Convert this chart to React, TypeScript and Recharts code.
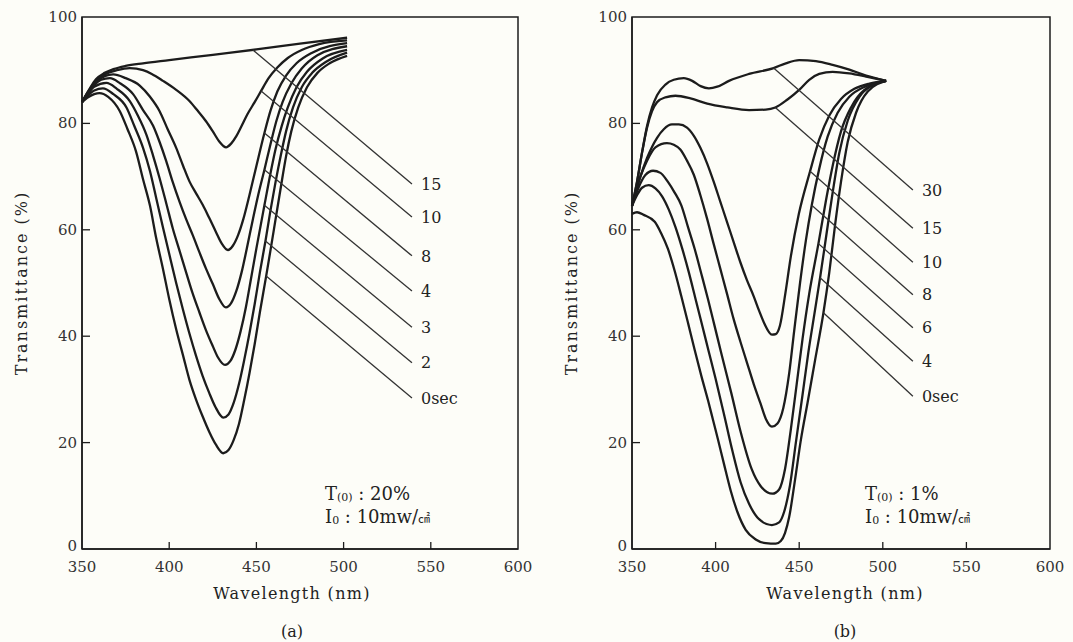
import React from 'react';
import { LineChart, Line, XAxis, YAxis, ReferenceArea, ReferenceDot } from 'recharts';

type Pt = [number, number];

const wavelengthTicks = [350, 400, 450, 500, 550, 600];
const transTicks = [0, 20, 40, 60, 80, 100];

// ---------- Panel (a): T(0) 20% ----------
const a15: Pt[] = [[350,84],[354,86.3],[358,88.3],[363,89.5],[368,90.2],[375,90.8],[385,91.3],[400,91.9],[425,92.9],[450,93.9],[475,95],[502,96.1]];
const a10: Pt[] = [[350,84],[354,86.2],[358,88],[363,89.2],[370,90],[377.4,90.4],[385,90],[390,89.3],[396.4,88],[404,86.3],[411.6,84.2],[416,82.5],[421.1,80.4],[425,78.5],[428.7,76.6],[432.6,75.5],[435.5,76.2],[438.5,77.6],[441.5,79.5],[445,81.8],[449,84],[452.7,86.1],[457,88.5],[462,90.5],[468,92.3],[476,93.8],[486,94.9],[502,95.6]];
const a8: Pt[] = [[350,84],[354,86],[358,87.7],[363,88.9],[367.9,89.2],[375,88.5],[383.1,87.1],[389,85],[394.5,82.3],[399,79],[404,75.4],[408,72],[411.6,69.1],[415.5,66.8],[419.2,64.7],[423,62.2],[426.8,59.6],[430,57.5],[433.7,56.2],[436.5,57],[439.5,59],[442.5,62],[446,66.5],[450,72],[454.6,78.2],[458,82.3],[462,86],[467,89],[473,91.3],[482,93.3],[502,95.1]];
const a4: Pt[] = [[350,84],[353,85.6],[357,87.2],[361,88.2],[366,88.5],[372,87.5],[379.3,85.5],[385,82.5],[390.7,79.6],[394.5,76.5],[398.3,72.9],[402,69],[405.9,65.3],[409.7,62],[413.5,59],[417.3,55.8],[421.1,52.7],[425,49.8],[428.7,47],[432.5,45.4],[435.5,46.2],[438.5,48.5],[441.5,52],[444.5,56.5],[448,62],[451,66.5],[454.6,71.3],[458,76],[461.5,80.5],[465,84],[470,87.5],[476,90.3],[485,92.8],[502,94.5]];
const a3: Pt[] = [[350,84],[353,85.4],[357,86.9],[364,87.6],[370,86.5],[377.4,84.2],[382,81.5],[386.9,77.9],[390.7,74],[394.5,69.7],[398.3,65],[402.1,60.2],[406,56],[409.7,52],[413.5,48],[417.3,44.5],[421,41.2],[424.9,38.2],[428,36],[432,34.6],[435,35.3],[438,37.5],[441,41],[444,45.5],[447,51],[450,56.5],[454.6,64.6],[458,70.5],[461,75.2],[464.5,79.5],[468,83],[473,86.8],[479,89.7],[488,92.2],[502,93.8]];
const a2: Pt[] = [[350,84],[353,85.1],[357,86.2],[362,86.6],[368,85.5],[375.5,83],[380,79.5],[385,75.4],[389,71],[392.6,65.9],[396.4,60.5],[400.2,55.2],[404,50],[407.8,45.1],[411.6,40.5],[415.4,36.3],[419.2,32.5],[423,29.3],[426.5,26.7],[431,24.7],[434,25.3],[437,27.5],[440,31],[443,35.5],[446,40.5],[449,46],[452,52],[455.2,57.9],[458,63.5],[461,69],[464,74],[467,78.5],[471,83],[476,86.8],[482,89.5],[490,91.6],[502,93.3]];
const a0: Pt[] = [[350,84],[353,84.8],[357,85.5],[360,85.7],[365,85],[371.7,82.3],[376,79],[381,74.7],[385,69.5],[389,64.5],[392.5,58.5],[396.4,52.7],[400,47],[404,41.3],[408,36.3],[411.6,31.8],[415.5,28],[419.2,24.9],[423,22],[426.8,19.6],[431,18],[434,18.6],[437,20.5],[440,23.5],[443,28],[446,33],[449,38.5],[452,44.5],[455.6,51.3],[458,56],[461,62],[464,68],[467,73.8],[470,78.5],[474,83],[479,86.8],[485,89.5],[492,91.3],[502,92.7]];

const aCurves = [a15, a10, a8, a4, a3, a2, a0];
const aLabels = ['15', '10', '8', '4', '3', '2', '0sec'];
const aLeaderStarts: Pt[] = [[448,93.8],[452.7,86.1],[454.6,78.2],[454.6,71.3],[454.6,64.6],[455.2,57.9],[455.6,51.3]];
const aLeaderEndX = 539.2;
const aLeaderEndY = [68.6, 62.4, 55.1, 48.5, 41.7, 35.0, 28.4];

// ---------- Panel (b): T(0) 1% ----------
const b30: Pt[] = [[350,64.5],[353,69],[356,74.5],[359,79.5],[362,83],[365,85.3],[370,87.3],[375,88.2],[381,88.5],[386,88],[391,87],[396,86.6],[401,86.9],[408,88],[420,89.3],[434.7,90.4],[442,91.3],[450,91.9],[460,91.7],[470,91],[480,90.1],[490,89],[502,88]];
const b15: Pt[] = [[350,64.5],[353,69],[356,74.5],[359,79.2],[362,82.3],[365,84],[370,84.9],[376,85.2],[385,84.7],[395,83.7],[407,83],[420,82.5],[430,82.6],[435.7,83],[443,84.5],[450,86.3],[456,88.2],[462,89.3],[470,89.7],[480,89.4],[490,88.8],[502,88]];
const b10: Pt[] = [[350,64.5],[355,70],[359,73.5],[365,77.3],[369,78.9],[373.9,79.8],[378,79.8],[382.9,79.2],[386.9,77.7],[390.9,75.4],[394.9,72.5],[398.8,69.1],[402.8,65.3],[406.8,61.5],[410.8,57.7],[414.8,53.9],[418.8,50.5],[422.8,47.5],[426,44.8],[429,42.5],[433.7,40.3],[436,40.4],[438.5,42],[441.7,48],[445,55],[449.8,63],[456.5,71],[462,77],[468,81.5],[475,84.6],[483,86.5],[492,87.5],[502,88]];
const b8: Pt[] = [[350,64.5],[355,70],[359,73],[364,75.5],[370.9,76.3],[375,76],[378.9,75.1],[382.9,73],[386.9,70.4],[390.9,66.5],[394.9,62.1],[398.8,57.4],[402.8,52.7],[406.8,48],[410.8,43.2],[414.8,39],[418.8,35],[422.8,31],[426.8,27.4],[430,24.5],[433.7,23],[437,23.6],[440.5,26.5],[444,33],[447,41],[450.5,50],[454,58],[457.5,64.6],[462,71.5],[467,77.5],[473,82],[480,85],[490,87],[502,88]];
const b6: Pt[] = [[350,64.5],[354,68],[358,70.3],[362.6,71.1],[367,70.7],[371.5,69],[375.5,67],[379.5,64.6],[383.5,60.5],[387.5,56.4],[391.5,51.7],[395.5,46.9],[399.5,41.8],[403.4,36.8],[409.4,29.3],[415,22],[421.6,15],[427,11.8],[434,10.4],[438,11.2],[441.5,15],[445,22.5],[448.5,31],[452,39.5],[456,48],[461.5,57.4],[466,65.5],[470,72],[475,78.5],[481,83],[489,86.3],[502,88]];
const b4: Pt[] = [[350,64.5],[353,66.5],[356,67.9],[360,68.4],[364,67.8],[368,66.3],[372,63.8],[376,60.5],[380,56.5],[384,52],[388,47],[392,42],[396,37],[400,32],[405.4,24.8],[410,18.5],[415,12.5],[420,8.5],[426,5.6],[433.7,4.5],[438,5],[441,7],[444.5,12],[448,20],[452,29],[455.5,37],[459,44],[462.5,51],[466,58.5],[470,67],[474,74.5],[479,80.5],[486,85],[494,87.2],[502,88]];
const b0: Pt[] = [[350,63],[353,63.3],[357,62.8],[363.6,61.5],[367.5,59.3],[371.5,56.4],[375.5,52.3],[379.5,47.5],[383.5,42.5],[387.5,37.4],[391.5,32.5],[395.5,27.9],[398.5,24.2],[401.5,20.5],[405,16],[409,11],[413,7],[418,3.6],[424,1.8],[430,1.1],[436,1.0],[439,1.5],[441.5,3],[444,6],[447.5,13],[451,20.5],[455,27.5],[459.5,35.5],[464.5,44.4],[468,52],[471.5,61],[475,69],[479,76.5],[484,82],[491,86],[502,88]];

const bCurves = [b30, b15, b10, b8, b6, b4, b0];
const bLabels = ['30', '15', '10', '8', '6', '4', '0sec'];
const bLeaderStarts: Pt[] = [[434.7,90.4],[435.7,83],[456.5,71],[457.5,64.6],[461.5,57.4],[462.5,51],[464.5,44.4]];
const bLeaderEndX = 518;
const bLeaderEndY = [67.5, 60.3, 53.9, 47.8, 41.6, 35.3, 28.7];

const SERIF = '"DejaVu Serif", "Liberation Serif", serif';
const INK = '#1c1c1c';

const toData = (pts: Pt[]) => pts.map(([x, y]) => ({ x, y }));

const XTick = (props: any) => {
  const { x, y, payload } = props;
  const v = payload.value;
  const inner = v !== 350 && v !== 600;
  return (
    <g>
      {inner && <line x1={x} x2={x} y1={y} y2={y - 7} stroke={INK} strokeWidth={1.3} />}
      <text x={x} y={y + 23} textAnchor="middle" fontSize={15} fontFamily={SERIF} fill="#333">{v}</text>
    </g>
  );
};

const YTick = (props: any) => {
  const { x, y, payload } = props;
  const v = payload.value;
  const inner = v !== 0 && v !== 100;
  return (
    <g>
      {inner && <line x1={x} x2={x + 8} y1={y} y2={y} stroke={INK} strokeWidth={1.3} />}
      <text x={x - 5} y={v === 0 ? y + 2 : y + 5} textAnchor="end" fontSize={15} fontFamily={SERIF} fill="#333">{v}</text>
    </g>
  );
};

type PanelProps = {
  width: number;
  margin: { top: number; right: number; bottom: number; left: number };
  curves: Pt[][];
  labels: string[];
  leaderStarts: Pt[];
  leaderEndX: number;
  leaderEndY: number[];
};

const Panel = ({ width, margin, curves, labels, leaderStarts, leaderEndX, leaderEndY }: PanelProps) => (
  <LineChart width={width} height={642} margin={margin}>
    <XAxis
      type="number"
      dataKey="x"
      domain={[350, 600]}
      ticks={wavelengthTicks}
      interval={0}
      height={30}
      tickSize={0}
      tickMargin={0}
      tickLine={false}
      axisLine={{ stroke: INK, strokeWidth: 1.5 }}
      tick={<XTick />}
    />
    <YAxis
      type="number"
      dataKey="y"
      domain={[0, 100]}
      ticks={transTicks}
      interval={0}
      width={40}
      tickSize={0}
      tickMargin={0}
      tickLine={false}
      axisLine={{ stroke: INK, strokeWidth: 1.5 }}
      tick={<YTick />}
    />
    <ReferenceArea x1={350} x2={600} y1={0} y2={100} fill="none" stroke={INK} strokeWidth={1.5} />
    {curves.map((c, i) => (
      <Line
        key={'c' + i}
        data={toData(c)}
        dataKey="y"
        type="monotone"
        stroke={INK}
        strokeWidth={2.3}
        dot={false}
        activeDot={false}
        isAnimationActive={false}
      />
    ))}
    {leaderStarts.map((s, i) => (
      <Line
        key={'l' + i}
        data={[{ x: s[0], y: s[1] }, { x: leaderEndX, y: leaderEndY[i] }]}
        dataKey="y"
        type="linear"
        stroke="#333"
        strokeWidth={1.3}
        dot={false}
        activeDot={false}
        isAnimationActive={false}
      />
    ))}
    {labels.map((lab, i) => (
      <ReferenceDot
        key={'d' + i}
        x={leaderEndX}
        y={leaderEndY[i]}
        r={0}
        fill="none"
        stroke="none"
        label={{ value: lab, position: 'right', offset: 9, fontSize: 16, fontFamily: SERIF, fill: '#222' }}
      />
    ))}
  </LineChart>
);

const small = { fontSize: 11 } as const;
const cjkSmall = { fontSize: 12, fontFamily: '"Noto Sans CJK JP", sans-serif' } as const;

export default function App() {
  return (
    <div style={{ position: 'absolute', left: 0, top: 0, width: 1073, height: 642, background: '#fdfdf8', overflow: 'hidden' }}>
      <div style={{ position: 'absolute', left: 0, top: 0 }}>
        <Panel
          width={540}
          margin={{ top: 17, right: 22, bottom: 63, left: 42 }}
          curves={aCurves}
          labels={aLabels}
          leaderStarts={aLeaderStarts}
          leaderEndX={aLeaderEndX}
          leaderEndY={aLeaderEndY}
        />
      </div>
      <div style={{ position: 'absolute', left: 540, top: 0 }}>
        <Panel
          width={533}
          margin={{ top: 17, right: 23, bottom: 63, left: 52 }}
          curves={bCurves}
          labels={bLabels}
          leaderStarts={bLeaderStarts}
          leaderEndX={bLeaderEndX}
          leaderEndY={bLeaderEndY}
        />
      </div>
      <svg width={1073} height={642} style={{ position: 'absolute', left: 0, top: 0, pointerEvents: 'none' }}>
        <g fontFamily={SERIF} fill="#222">
          <text x={21} y={283} transform="rotate(-90 21 283)" textAnchor="middle" dominantBaseline="central" fontSize={16} letterSpacing={2}>Transmittance (%)</text>
          <text x={571} y={283} transform="rotate(-90 571 283)" textAnchor="middle" dominantBaseline="central" fontSize={16} letterSpacing={2}>Transmittance (%)</text>
          <text x={292} y={599} textAnchor="middle" fontSize={16} letterSpacing={1.3}>Wavelength (nm)</text>
          <text x={845} y={599} textAnchor="middle" fontSize={16} letterSpacing={1.3}>Wavelength (nm)</text>
          <text x={292} y={637} textAnchor="middle" fontSize={16}>(a)</text>
          <text x={845} y={637} textAnchor="middle" fontSize={16}>(b)</text>
          <text x={325} y={500} fontSize={18}>T<tspan style={small} dy={1}>(0)</tspan><tspan dy={-1}> : 20%</tspan></text>
          <text x={325} y={523} fontSize={18}>I<tspan style={small} dy={1}>0</tspan><tspan dy={-1}> : 10mw/</tspan><tspan style={cjkSmall}>㎠</tspan></text>
          <text x={865} y={500} fontSize={18}>T<tspan style={small} dy={1}>(0)</tspan><tspan dy={-1}> : 1%</tspan></text>
          <text x={865} y={523} fontSize={18}>I<tspan style={small} dy={1}>0</tspan><tspan dy={-1}> : 10mw/</tspan><tspan style={cjkSmall}>㎠</tspan></text>
        </g>
      </svg>
    </div>
  );
}
